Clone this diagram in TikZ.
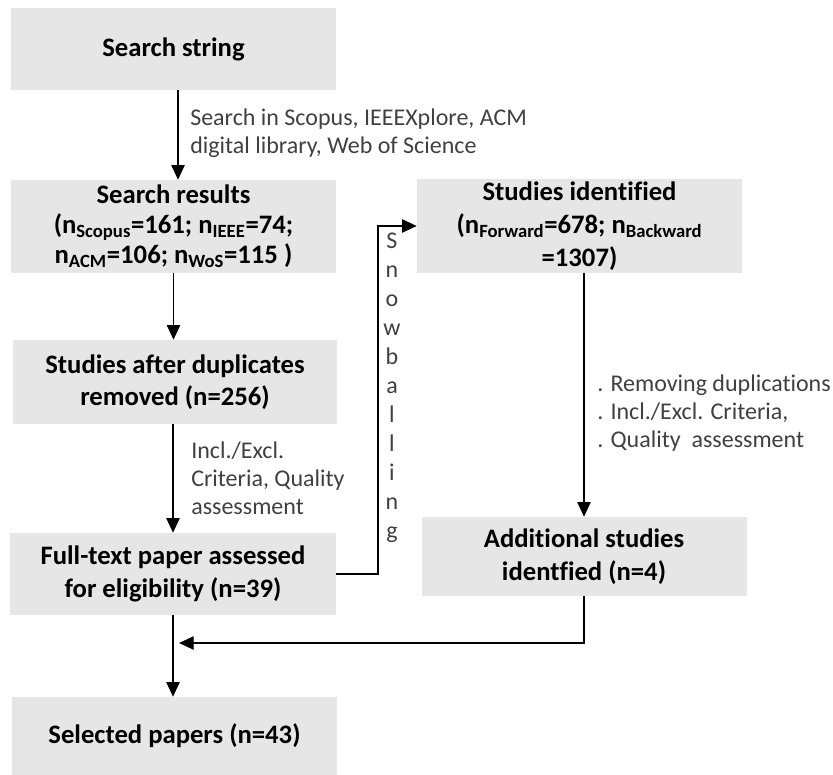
\documentclass[tikz,border=0pt]{standalone}
\usepackage{fontspec}
\setmainfont{Carlito}[Ligatures=NoCommon]
\usetikzlibrary{arrows.meta}
\definecolor{boxgray}{HTML}{E7E6E6}
\definecolor{lblgray}{HTML}{404040}
\begin{document}
\begin{tikzpicture}[x=0.75pt,y=-0.75pt,
  box/.style={fill=boxgray, font=\bfseries\fontsize{20}{24.5}\selectfont, align=center, inner sep=0pt, text=black},
  lbl/.style={font=\fontsize{18}{21}\selectfont, text=lblgray, align=left, inner sep=0pt},
  arr/.style={-{Triangle[length=11pt,width=10pt]}, line width=0.9pt, draw=black}]
\useasboundingbox (0,0) rectangle (833,775);

\node[box, minimum width=243.75pt, minimum height=61.5pt] (b1) at (173.5,49) {Search string};
\node[box, font=\bfseries\fontsize{20}{22.5}\selectfont, minimum width=243.75pt, minimum height=69.75pt] (b2) at (173.5,226.5)
  {Search results\\(n\textsubscript{Scopus}=161; n\textsubscript{IEEE}=74;\\n\textsubscript{ACM}=106; n\textsubscript{WoS}=115 )};
\node[box, minimum width=243pt, minimum height=63pt] (b3) at (175,382) {Studies after duplicates\\removed (n=256)};
\node[box, minimum width=244.5pt, minimum height=61.5pt] (b4) at (173,574) {Full-text paper assessed\\for eligibility (n=39)};
\node[box, minimum width=243.75pt, minimum height=70.5pt] (b5) at (579.5,226) {Studies identified\\(n\textsubscript{Forward}=678; n\textsubscript{Backward}\\=1307)};
\node[box, minimum width=243.75pt, minimum height=59.25pt] (b6) at (584,556.5) {Additional studies\\identfied (n=4)};
\node[box, minimum width=243.75pt, minimum height=58.5pt] (b7) at (174.5,736) {Selected papers (n=43)};

% base anchor = baseline of the last line
\node[lbl, anchor=base west] (l1) at (190,153) {Search in Scopus, IEEEXplore, ACM\\digital library, Web of Science};
\node[lbl, anchor=base west] (l2) at (191,514) {Incl./Excl.\\Criteria, Quality\\assessment};
\node[lbl, anchor=base west] (l3) at (597,447) {. Removing duplications\\. Incl./Excl. Criteria,\\. Quality\ \ assessment};
\node[lbl, align=center, font=\fontsize{18}{21.75}\selectfont, anchor=base] (snow) at (392,538) {S\\n\\o\\w\\b\\a\\l\\l\\i\\n\\g};

\coordinate (sb) at (378,574);
\coordinate (jn) at (179,643);

\draw[arr] ([xshift=3.4pt]b1.south) -- ([xshift=3.4pt]b2.north);
\draw[arr] (b2.south) -- (b3.north -| b2.south);
\draw[arr] (b3.south -| b4.north) -- (b4.north);
\draw[arr] (b4.east) -- (sb) |- (b5.west);
\draw[arr] (b6.north |- b5.south) -- (b6.north);
\draw[arr] (b6.south) |- (jn);
\draw[arr] (b4.south) -- (b7.north -| b4.south);
\end{tikzpicture}
\end{document}
